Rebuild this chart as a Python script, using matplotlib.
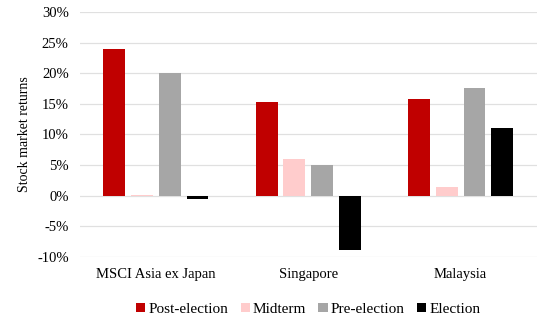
import matplotlib
matplotlib.use('Agg')
from matplotlib import pyplot as plt
import numpy as np

categories = ['MSCI Asia ex Japan', 'Singapore', 'Malaysia']
series = ['Post-election', 'Midterm', 'Pre-election', 'Election']
post_election = [24.0, 15.3, 15.8]
midterm = [0.1, 6.0, 1.5]
pre_election = [20.0, 5.0, 17.6]
election = [-0.5, -8.9, 11.1]
colors = ['#C00000', '#FFCCCC', '#A6A6A6', '#000000']

plt.rcParams['font.family'] = ['Liberation Serif', 'DejaVu Serif']

fig = plt.figure(figsize=(5.5, 3.24), dpi=100, facecolor='white')
ax = fig.add_axes([0.145, 0.207, 0.831, 0.756])

x = np.arange(len(categories))
width = 0.144
step = 0.182
values = [post_election, midterm, pre_election, election]
for i, (name, vals) in enumerate(zip(series, values)):
    offset = (i - 1.5) * step
    ax.bar(x + offset, vals, width, color=colors[i], label=name, zorder=3)

ax.set_xlim(-0.5, 2.5)
ax.set_ylim(-10, 30)
ax.set_yticks(np.arange(-10, 31, 5))
ax.set_yticklabels([f'{v}%' for v in range(-10, 31, 5)], fontsize=10.5)
ax.set_xticks(x)
ax.set_xticklabels(categories, fontsize=10.5)
ax.tick_params(length=0, pad=8)
ax.yaxis.grid(True, color='#E0E0E0', linewidth=0.9, zorder=0)
for s in ax.spines.values():
    s.set_visible(False)
ax.set_ylabel('Stock market returns', fontsize=10)

ax.legend(loc='upper center', bbox_to_anchor=(0.5, -0.13), ncol=4, frameon=False,
          fontsize=11, handlelength=0.6, handleheight=0.6, handletextpad=0.2,
          columnspacing=0.8)

fig.savefig('out.png', dpi=100)
